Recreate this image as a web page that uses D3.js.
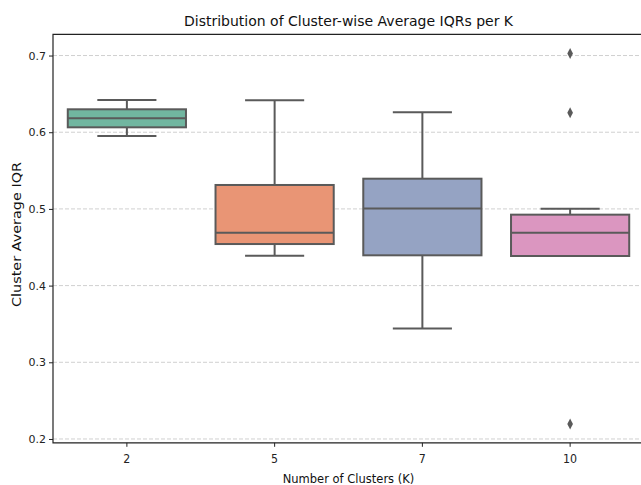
<!DOCTYPE html>
<html>
  <head>
    <meta charset="utf-8">
    <script src="https://d3js.org/d3.v7.min.js"></script>
    <style>
      body { margin: 0; background: #fff; }
      svg { display: block; font-family: "DejaVu Sans", sans-serif; }
    </style>
  </head>
  <body>
    <svg id="vis"></svg>
  </body>
  <script>
    // Data
    var categories = ['2', '5', '7', '10']
    var whiskerLow = [0.595, 0.439, 0.344, 0.4386]
    var q1 = [0.6064, 0.4542, 0.4395, 0.4386]
    var median = [0.6181, 0.469, 0.5004, 0.469]
    var q3 = [0.6299, 0.5312, 0.5394, 0.4925]
    var whiskerHigh = [0.642, 0.6416, 0.626, 0.5003]
    var outliers = [[], [], [], [0.7026, 0.6254, 0.2196]]
    var colors = ['#71b6a0', '#e99575', '#95a3c3', '#db96c0']
    var yTicks = [0.2, 0.3, 0.4, 0.5, 0.6, 0.7]

    var W = 641, H = 485
    var margin = {top: 34.3, left: 53, right: 644, bottom: 442.8}

    var svg = d3.select('svg').attr('width', W).attr('height', H)

    var x = d3.scaleBand().domain(categories).range([margin.left, margin.right]).padding(0)
    var y = d3.scaleLinear().domain([0.1954, 0.7277]).range([442.5, margin.top])
    var bw = x.bandwidth()
    var lineColor = '#5a5a5a'

    // grid (horizontal, dashed)
    svg.append('g').selectAll('line').data(yTicks).join('line')
      .attr('x1', margin.left).attr('x2', margin.right)
      .attr('y1', d => y(d)).attr('y2', d => y(d))
      .attr('stroke', '#d0d0d0').attr('stroke-width', 1)
      .attr('stroke-dasharray', '4,2')

    // boxes
    var boxes = svg.append('g').selectAll('g').data(categories).join('g')
      .attr('transform', d => 'translate(' + (x(d) + bw / 2) + ',0)')

    boxes.append('line')
      .attr('y1', (d, i) => y(whiskerHigh[i])).attr('y2', (d, i) => y(q3[i]))
      .attr('stroke', lineColor).attr('stroke-width', 2)
    boxes.append('line')
      .attr('y1', (d, i) => y(whiskerLow[i])).attr('y2', (d, i) => y(q1[i]))
      .attr('stroke', lineColor).attr('stroke-width', 2)
    boxes.append('line')
      .attr('x1', -bw * 0.2).attr('x2', bw * 0.2)
      .attr('y1', (d, i) => y(whiskerHigh[i])).attr('y2', (d, i) => y(whiskerHigh[i]))
      .attr('stroke', lineColor).attr('stroke-width', 2)
    boxes.append('line')
      .attr('x1', -bw * 0.2).attr('x2', bw * 0.2)
      .attr('y1', (d, i) => y(whiskerLow[i])).attr('y2', (d, i) => y(whiskerLow[i]))
      .attr('stroke', lineColor).attr('stroke-width', 2)
    boxes.append('rect')
      .attr('x', -bw * 0.4).attr('width', bw * 0.8)
      .attr('y', (d, i) => y(q3[i]))
      .attr('height', (d, i) => y(q1[i]) - y(q3[i]))
      .attr('fill', (d, i) => colors[i])
      .attr('stroke', lineColor).attr('stroke-width', 2)
    boxes.append('line')
      .attr('x1', -bw * 0.4).attr('x2', bw * 0.4)
      .attr('y1', (d, i) => y(median[i])).attr('y2', (d, i) => y(median[i]))
      .attr('stroke', lineColor).attr('stroke-width', 2)

    // outliers (diamonds)
    boxes.selectAll('path').data((d, i) => outliers[i]).join('path')
      .attr('d', 'M0,-5.5L2.8,0L0,5.5L-2.8,0Z')
      .attr('transform', d => 'translate(0,' + y(d) + ')')
      .attr('fill', lineColor)

    // axes
    var yAxis = svg.append('g')
      .attr('transform', 'translate(' + margin.left + ',0)')
      .call(d3.axisLeft(y).tickValues(yTicks).tickFormat(d3.format('.1f')).tickSize(4).tickPadding(3))
    var xAxis = svg.append('g')
      .attr('transform', 'translate(0,' + margin.bottom + ')')
      .call(d3.axisBottom(x).tickSize(4))
    ;[yAxis, xAxis].forEach(function(a) {
      a.select('.domain').remove()
      a.selectAll('.tick line').attr('stroke', '#222')
      a.selectAll('.tick text').attr('fill', '#222').style('font-size', '11px').style('font-family', '"DejaVu Sans", sans-serif')
    })
    // x tick labels are taller and narrower in the picture
    xAxis.selectAll('.tick text')
      .attr('y', 20).attr('dy', 0)
      .style('font-size', '13px')
      .attr('transform', 'scale(0.85,1)')

    // spines
    svg.append('path')
      .attr('d', 'M' + margin.right + ',' + margin.top + 'H' + margin.left + 'V' + margin.bottom + 'H' + margin.right)
      .attr('fill', 'none').attr('stroke', '#222').attr('stroke-width', 1.2)

    // labels
    var cx = (margin.left + margin.right) / 2
    svg.append('text')
      .attr('x', cx).attr('y', 26)
      .attr('text-anchor', 'middle').style('font-size', '14px').attr('fill', '#111')
      .text('Distribution of Cluster-wise Average IQRs per K')
    svg.append('text')
      .attr('transform', 'translate(' + cx + ',483) scale(0.885,1)')
      .attr('text-anchor', 'middle').style('font-size', '13px').attr('fill', '#111')
      .text('Number of Clusters (K)')
    svg.append('text')
      .attr('transform', 'translate(21,234.5) rotate(-90)')
      .attr('text-anchor', 'middle').style('font-size', '12px').attr('fill', '#111')
      .attr('textLength', 145).attr('lengthAdjust', 'spacingAndGlyphs')
      .text('Cluster Average IQR')
  </script>
</html>
